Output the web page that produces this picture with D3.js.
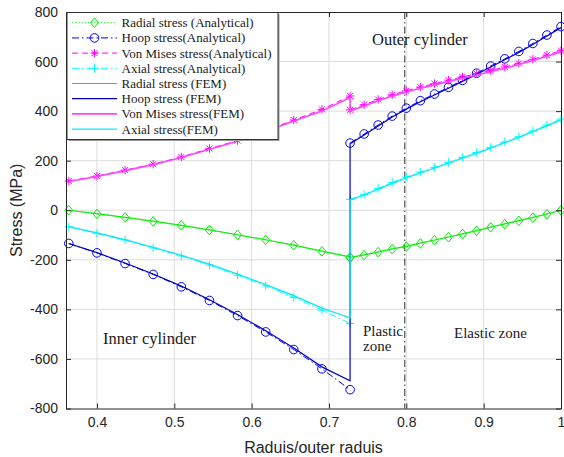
<!DOCTYPE html>
<html><head><meta charset="utf-8">
<script src="https://cdn.jsdelivr.net/npm/d3@7"></script>
<style>body{margin:0;background:#fff}svg{display:block}</style>
</head><body><svg id="c" width="564" height="457"></svg>
<script>
// ---- data ----
const rInner = [0.3636, 0.4000, 0.4364, 0.4727, 0.5091, 0.5455, 0.5818, 0.6182, 0.6545, 0.6909, 0.7273];
const rOuter = [0.7273, 0.7455, 0.7636, 0.7818, 0.8000, 0.8182, 0.8364, 0.8545, 0.8727, 0.8909, 0.9091, 0.9273, 0.9455, 0.9636, 0.9818, 1.0000];

const radialAnaInner = [0, -15, -29, -45, -61, -80, -99, -120, -141, -166, -190];
const hoopAnaInner   = [-134, -172, -215, -259, -309, -364, -425, -491, -562, -640, -724];
const vonMisesAnaInner = [118, 138, 162, 186, 215, 249, 281, 321, 364, 407, 461];
const axialAnaInner  = [-67, -93, -120, -152, -184, -221, -262, -305, -352, -403, -457];

const radialAnaOuter = [-192, -181, -169, -157, -147, -134, -121, -109, -96, -83, -69, -56, -43, -30, -16, 0];
const hoopAnaOuter   = [271, 308, 344, 380, 412, 442, 469, 496, 524, 553, 582, 611, 641, 673, 707, 741];
const vonMisesAnaOuter = [405, 426, 447, 466, 482, 497, 511, 525, 538, 551, 564, 578, 593, 609, 626, 644];
const axialAnaOuter  = [44, 64, 88, 112, 134, 154, 173, 193, 213, 233, 254, 276, 297, 320, 344, 368];

const radialFemInner = [0, -14, -29, -44, -61, -79, -99, -119, -141, -165, -188];
const hoopFemInner   = [-134, -171, -213, -257, -306, -361, -421, -486, -556, -632, -688];
const vonMisesFemInner = [116, 136, 160, 184, 213, 246, 278, 318, 360, 400, 455];
const axialFemInner  = [-66, -92, -119, -150, -182, -218, -258, -300, -345, -395, -434];

const radialFemOuter = [-190, -180, -168, -156, -146, -133, -120, -108, -95, -82, -68, -55, -42, -29, -15, 0];
const hoopFemOuter   = [268, 304, 340, 376, 408, 438, 465, 492, 520, 549, 578, 607, 637, 669, 703, 737];
const vonMisesFemOuter = [401, 421, 442, 461, 477, 492, 506, 520, 533, 546, 559, 573, 588, 604, 621, 639];
const axialFemOuter  = [41, 61, 85, 109, 131, 151, 170, 190, 210, 230, 251, 273, 294, 317, 341, 365];

const xTicks = [0.4, 0.5, 0.6, 0.7, 0.8, 0.9, 1.0];
const xTickLabels = ["0.4", "0.5", "0.6", "0.7", "0.8", "0.9", "1"];
const yTicks = [-800, -600, -400, -200, 0, 200, 400, 600, 800];
const yTickLabels = ["-800", "-600", "-400", "-200", "0", "200", "400", "600", "800"];
const elasticPlasticBoundary = 0.798;

const legendLabels = ["Radial stress (Analytical)", "Hoop stress(Analytical)", "Von Mises stress(Analytical)", "Axial stress(Analytical)",
  "Radial stress (FEM)", "Hoop stress (FEM)", "Von Mises stress(FEM)", "Axial stress(FEM)"];

// ---- styles ----
const anaStyles = [
  {color: "#00ee00", dash: "1.2,2", marker: "diamond"},
  {color: "#0000ff", dash: "7,3,1.5,3", marker: "circle"},
  {color: "#ff00ff", dash: "6,4", marker: "star"},
  {color: "#00ffff", dash: "7,3,1.5,3", marker: "plus"}
];
const femStyles = [
  {color: "#11ee11", width: 1.2},
  {color: "#0000c0", width: 1.2},
  {color: "#ff44ff", width: 1.6},
  {color: "#11e8f8", width: 1.4}
];

const svg = d3.select("#c");
const L = 66, R = 561, T = 12, B = 408.5;
const x = d3.scaleLinear().domain([0.36, 1]).range([L, R]);
const y = d3.scaleLinear().domain([-800, 800]).range([B, T]);

// grid
const g = svg.append("g");
g.selectAll("line.gx").data(xTicks.slice(0, -1)).join("line")
  .attr("x1", d => x(d)).attr("x2", d => x(d)).attr("y1", T).attr("y2", B)
  .attr("stroke", "#dcdcdc").attr("stroke-width", 1);
g.selectAll("line.gy").data(yTicks.slice(1, -1)).join("line")
  .attr("x1", L).attr("x2", R).attr("y1", d => y(d)).attr("y2", d => y(d))
  .attr("stroke", "#dcdcdc").attr("stroke-width", 1);

// elastic-plastic boundary
svg.append("line").attr("x1", x(elasticPlasticBoundary)).attr("x2", x(elasticPlasticBoundary))
  .attr("y1", T).attr("y2", B).attr("stroke", "#333").attr("stroke-width", 1)
  .attr("stroke-dasharray", "7,3,1.5,3");

const line = d3.line().x(d => x(d[0])).y(d => y(d[1]));
function pairs(xs, ys) { return xs.map((v, i) => [v, ys[i]]); }

function markerPath(type) {
  if (type === "diamond") return "M0,-4.8L4,0L0,4.8L-4,0Z";
  if (type === "plus") return "M-4.2,0H4.2M0,-4.2V4.2";
  if (type === "star") return "M-4.2,0H4.2M0,-4.2V4.2M-3,-3L3,3M-3,3L3,-3";
  return null;
}
function drawMarker(sel, type, color) {
  if (type === "circle") {
    sel.append("circle").attr("r", 4.3).attr("fill", "none").attr("stroke", color).attr("stroke-width", 1);
  } else {
    sel.append("path").attr("d", markerPath(type)).attr("fill", "none").attr("stroke", color).attr("stroke-width", 1);
  }
}

const anaInner = [radialAnaInner, hoopAnaInner, vonMisesAnaInner, axialAnaInner];
const anaOuter = [radialAnaOuter, hoopAnaOuter, vonMisesAnaOuter, axialAnaOuter];
const femInner = [radialFemInner, hoopFemInner, vonMisesFemInner, axialFemInner];
const femOuter = [radialFemOuter, hoopFemOuter, vonMisesFemOuter, axialFemOuter];

const plot = svg.append("g");
// analytical (drawn first)
anaInner.forEach((arr, k) => {
  const st = anaStyles[k];
  [pairs(rInner, arr), pairs(rOuter, anaOuter[k])].forEach(pts => {
    plot.append("path").attr("d", line(pts)).attr("fill", "none")
      .attr("stroke", st.color).attr("stroke-width", 1).attr("stroke-dasharray", st.dash);
    pts.forEach(p => {
      const m = plot.append("g").attr("transform", `translate(${x(p[0])},${y(p[1])})`);
      drawMarker(m, st.marker, st.color);
    });
  });
});
// FEM
femInner.forEach((arr, k) => {
  const st = femStyles[k];
  const pts = pairs(rInner, arr).concat(pairs(rOuter, femOuter[k]));
  plot.append("path").attr("d", line(pts)).attr("fill", "none")
    .attr("stroke", st.color).attr("stroke-width", st.width);
});

// axes
const axisColor = "#262626";
const fmtX = (d, i) => xTickLabels[i];
const fmtY = (d, i) => yTickLabels[i];
const ax = svg.append("g").attr("transform", `translate(0,${B})`)
  .call(d3.axisBottom(x).tickValues(xTicks).tickFormat(fmtX).tickSizeInner(-5).tickSizeOuter(0).tickPadding(9));
const ay = svg.append("g").attr("transform", `translate(${L},0)`)
  .call(d3.axisLeft(y).tickValues(yTicks).tickFormat(fmtY).tickSizeInner(-5).tickSizeOuter(0).tickPadding(8));
const at = svg.append("g").attr("transform", `translate(0,${T})`)
  .call(d3.axisTop(x).tickValues(xTicks).tickFormat("").tickSizeInner(-5).tickSizeOuter(0));
const ar = svg.append("g").attr("transform", `translate(${R},0)`)
  .call(d3.axisRight(y).tickValues(yTicks).tickFormat("").tickSizeInner(-5).tickSizeOuter(0));
[ax, ay, at, ar].forEach(a => {
  a.selectAll("path.domain").attr("stroke", axisColor).attr("stroke-width", 1);
  a.selectAll(".tick line").attr("stroke", axisColor).attr("stroke-width", 1);
  a.selectAll("text").attr("fill", "#262626").attr("font-family", "'Liberation Sans', Arial, sans-serif").attr("font-size", 14);
});

// axis labels
svg.append("text").attr("x", (L + R) / 2).attr("y", 453).attr("text-anchor", "middle")
  .attr("font-family", "'Liberation Sans', Arial, sans-serif").attr("font-size", 16).attr("fill", "#262626")
  .text("Raduis/outer raduis");
svg.append("text").attr("transform", `translate(22,${(T + B) / 2}) rotate(-90)`).attr("text-anchor", "middle")
  .attr("font-family", "'Liberation Sans', Arial, sans-serif").attr("font-size", 16).attr("fill", "#262626")
  .text("Stress (MPa)");

// annotations
const serif = "'Liberation Serif', 'Times New Roman', serif";
const ann = [
  {t: "Outer cylinder", x: 372, y: 45, s: 16.5},
  {t: "Inner cylinder", x: 103, y: 344, s: 16.5},
  {t: "Plastic", x: 363, y: 335.5, s: 15},
  {t: "zone", x: 363, y: 351, s: 15},
  {t: "Elastic zone", x: 454, y: 337.5, s: 15}
];
ann.forEach(a => svg.append("text").attr("x", a.x).attr("y", a.y).attr("font-family", serif)
  .attr("font-size", a.s).attr("fill", "#1a1a1a").text(a.t));

// legend
const lg = svg.append("g");
lg.append("rect").attr("x", 68.5).attr("y", 14).attr("width", 211).attr("height", 127).attr("fill", "#999");
lg.append("rect").attr("x", 67).attr("y", 12.5).attr("width", 211).attr("height", 127)
  .attr("fill", "#fff").attr("stroke", "#333").attr("stroke-width", 1);
legendLabels.forEach((lab, i) => {
  const yy = 22.7 + i * 15.2;
  if (i < 4) {
    const st = anaStyles[i];
    lg.append("line").attr("x1", 72).attr("x2", 117).attr("y1", yy).attr("y2", yy)
      .attr("stroke", st.color).attr("stroke-width", 1).attr("stroke-dasharray", st.dash);
    const m = lg.append("g").attr("transform", `translate(94.5,${yy})`);
    drawMarker(m, st.marker, st.color);
  } else {
    const st = femStyles[i - 4];
    lg.append("line").attr("x1", 72).attr("x2", 117).attr("y1", yy).attr("y2", yy)
      .attr("stroke", st.color).attr("stroke-width", st.width);
  }
  lg.append("text").attr("x", 121.5).attr("y", yy + 4.5).attr("font-family", serif)
    .attr("font-size", 13).attr("fill", "#1a1a1a").text(lab);
});
</script></body></html>
